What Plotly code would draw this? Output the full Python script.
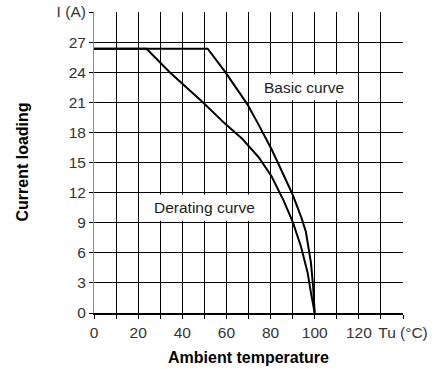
import plotly.graph_objects as go

# Data
basic_x = [0, 51.5, 59.5, 65.0, 69.5, 74.5, 80.5, 85.8, 90.0, 93.8, 96.0, 98.3, 99.3, 100]
basic_y = [26.34, 26.34, 24.0, 22.3, 20.8, 18.8, 16.3, 13.8, 11.8, 9.6, 8.1, 5.0, 2.6, 0.0]
derating_x = [0, 23.8, 34.3, 49.3, 59.2, 67.0, 74.5, 80.5, 85.8, 90.0, 93.8, 96.8, 98.3, 100]
derating_y = [26.34, 26.34, 24.0, 21.0, 18.9, 17.4, 15.55, 13.6, 11.25, 9.1, 6.6, 4.0, 2.0, 0.0]

x_ticks = list(range(0, 141, 10))
x_labels = ["0", "", "20", "", "40", "", "60", "", "80", "", "100", "", "120", "", "Tu (°C)"]
y_ticks = list(range(0, 31, 3))
y_labels = ["0", "3", "6", "9", "12", "15", "18", "21", "24", "27", "I (A)"]

FONT = "Liberation Sans"

fig = go.Figure()
fig.add_trace(go.Scatter(x=basic_x, y=basic_y, mode="lines",
                         line=dict(color="black", width=2), showlegend=False))
fig.add_trace(go.Scatter(x=derating_x, y=derating_y, mode="lines",
                         line=dict(color="black", width=2), showlegend=False))

# white label boxes covering the grid
fig.add_shape(type="rect", x0=71.5, x1=114, y0=21.2, y1=23.8, layer="between",
              fillcolor="white", line=dict(width=0))
fig.add_shape(type="rect", x0=20.5, x1=79.5, y0=9.2, y1=11.8, layer="between",
              fillcolor="white", line=dict(width=0))
fig.add_annotation(x=95, y=22.5, text="Basic curve", showarrow=False,
                   font=dict(size=15.5, color="#222", family=FONT))
fig.add_annotation(x=50, y=10.5, text="Derating curve", showarrow=False,
                   font=dict(size=15.5, color="#222", family=FONT))

# axis titles
fig.add_annotation(xref="paper", yref="paper", x=0.5, y=-0.148, yanchor="middle",
                   text="<b>Ambient temperature</b>", showarrow=False,
                   font=dict(size=16, color="black", family=FONT))
fig.add_annotation(xref="paper", yref="paper", x=-0.233, xanchor="center", y=0.5,
                   text="<b>Current loading</b>", showarrow=False, textangle=-90,
                   font=dict(size=16, color="black", family=FONT))

fig.update_xaxes(range=[0, 140], tickvals=x_ticks, ticktext=x_labels, automargin=False,
                 showgrid=True, gridcolor="black", gridwidth=1.3, zeroline=False,
                 showline=True, linecolor="black", linewidth=2,
                 ticks="outside", ticklen=4, tickcolor="black",
                 ticklabeloverflow="allow",
                 tickfont=dict(size=15.5, color="#333", family=FONT))
fig.update_yaxes(range=[0, 30], tickvals=y_ticks, ticktext=y_labels, automargin=False,
                 showgrid=True, gridcolor="black", gridwidth=1.3, zeroline=False,
                 showline=True, linecolor="#888", linewidth=1,
                 ticks="outside", ticklen=4, tickcolor="black",
                 ticklabeloverflow="allow",
                 tickfont=dict(size=15.5, color="#333", family=FONT))

fig.update_layout(width=441, height=369, margin=dict(l=94, r=37.7, t=11.5, b=55.7),
                  plot_bgcolor="white", paper_bgcolor="white")
fig.write_html("out.html", config={"displayModeBar": False},
               post_script="document.body.style.margin='0px';")
